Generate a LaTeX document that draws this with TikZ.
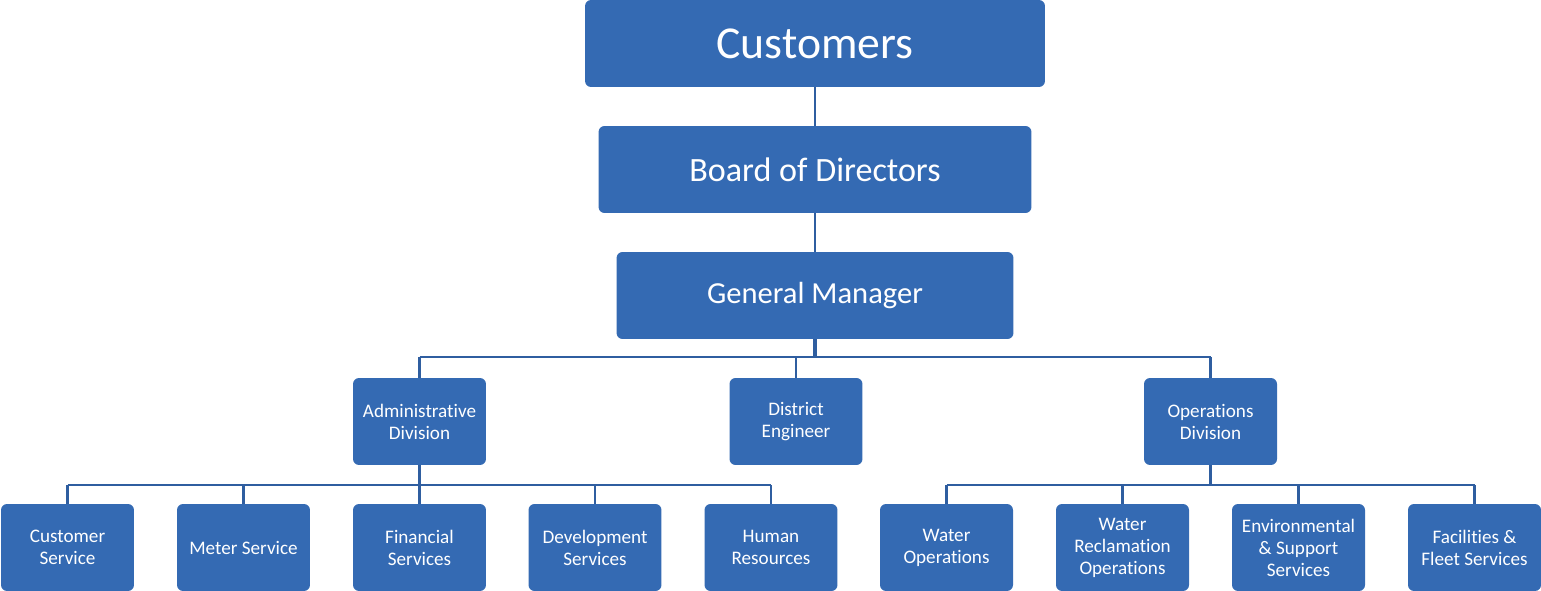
\documentclass[tikz,border=0pt]{standalone}
\usepackage{fontspec}
\setmainfont[Ligatures={NoCommon}]{Carlito}
\usepackage{tikz}
\definecolor{org_blue}{RGB}{52, 106, 179}
\definecolor{org_line}{RGB}{47, 94, 160}
\tikzstyle{box}=[rectangle,rounded corners=0.12cm,fill=org_blue,draw=none,
  text=white,align=center,inner sep=0pt]
\tikzstyle{topbox}=[box,minimum height=1.74cm]
\tikzstyle{unit}=[box,minimum width=2.66cm,minimum height=1.74cm,
  font=\fontsize{10.9}{12.5}\selectfont]
\tikzstyle{link}=[draw=org_line,line width=1.3pt]

\begin{document}
\begin{tikzpicture}[x=0.02cm,y=-0.02cm]
    \useasboundingbox (0,0) rectangle (1541,591);
    \node [style=topbox,minimum width=9.2cm,font=\fontsize{26}{30}\selectfont] (cust) at (815,43.5) {Customers};
    \node [style=topbox,minimum width=8.66cm,font=\fontsize{19.4}{23}\selectfont] (board) at (815,169.5) {Board of Directors};
    \node [style=topbox,minimum width=7.94cm,font=\fontsize{17.4}{21}\selectfont] (gm) at (815,295.5) {General Manager};
    \node [style=unit] (adm) at (419.5,421.5) {Administrative\\Division};
    \node [style=unit] (eng) at (796,421.5) {District\\Engineer};
    \node [style=unit] (ops) at (1210.5,421.5) {Operations\\Division};
    \node [style=unit] (cs) at (67.5,547.5) {Customer\\Service};
    \node [style=unit] (meter) at (243.5,547.5) {Meter Service};
    \node [style=unit] (fin) at (419.5,547.5) {Financial\\Services};
    \node [style=unit] (dev) at (595,547.5) {Development\\Services};
    \node [style=unit] (hr) at (771,547.5) {Human\\Resources};
    \node [style=unit] (wops) at (946.5,547.5) {Water\\Operations};
    \node [style=unit] (wrec) at (1122.5,547.5) {Water\\Reclamation\\Operations};
    \node [style=unit] (env) at (1298.5,547.5) {Environmental\\\& Support\\Services};
    \node [style=unit] (fac) at (1474.5,547.5) {Facilities \&\\Fleet Services};
    \coordinate (gmbus) at (0,357);
    \coordinate (admbus) at (0,485);
    \coordinate (opsbus) at (0,485);
    \draw [style=link] (cust.south) to (board.north);
    \draw [style=link] (board.south) to (gm.north);
    \draw [style=link,line width=1.8pt] (gm.south) to (gm.south |- gmbus);
    \draw [style=link] (adm.north |- gmbus) to (ops.north |- gmbus);
    \draw [style=link] (adm.north) to (adm.north |- gmbus);
    \draw [style=link] (eng.north) to (eng.north |- gmbus);
    \draw [style=link] (ops.north) to (ops.north |- gmbus);
    \draw [style=link,line width=1.8pt] (adm.south) to (adm.south |- admbus);
    \draw [style=link] (cs.north |- admbus) to (hr.north |- admbus);
    \foreach \n in {cs,meter,fin,dev,hr}
      \draw [style=link] (\n.north) to (\n.north |- admbus);
    \draw [style=link,line width=1.8pt] (ops.south) to (ops.south |- opsbus);
    \draw [style=link] (wops.north |- opsbus) to (fac.north |- opsbus);
    \foreach \n in {wops,wrec,env,fac}
      \draw [style=link] (\n.north) to (\n.north |- opsbus);
  \end{tikzpicture}
\end{document}
